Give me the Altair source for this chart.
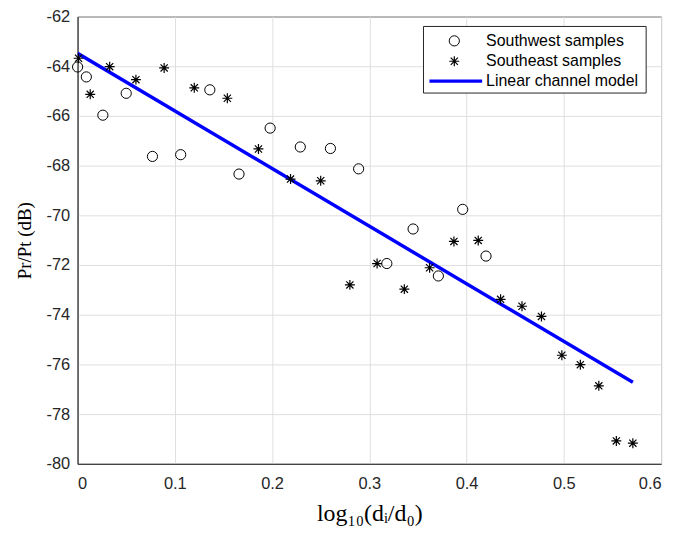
import altair as alt
import pandas as pd

# Southwest samples (circles)
sw_x = [0.000, 0.009, 0.026, 0.050, 0.077, 0.106, 0.136, 0.166, 0.198, 0.229,
        0.260, 0.289, 0.318, 0.345, 0.371, 0.396, 0.420]
sw_y = [-64.03, -64.43, -65.97, -65.09, -67.63, -67.56, -64.95, -68.34, -66.49, -67.25,
        -67.31, -68.13, -71.94, -70.55, -72.44, -69.76, -71.64]

# Southeast samples (asterisks)
se_x = [0.001, 0.013, 0.033, 0.060, 0.089, 0.120, 0.154, 0.186, 0.219, 0.250,
        0.280, 0.308, 0.336, 0.362, 0.387, 0.412, 0.435, 0.457, 0.477, 0.498,
        0.517, 0.536, 0.554, 0.571]
se_y = [-63.68, -65.13, -64.02, -64.54, -64.07, -64.87, -65.29, -67.33, -68.54, -68.61,
        -72.80, -71.94, -72.97, -72.11, -71.05, -71.01, -73.38, -73.66, -74.07, -75.63,
        -76.01, -76.86, -79.08, -79.17]

# Linear channel model (end points)
fit_x = [0.0, 0.571]
fit_y = [-63.48, -76.72]

x_ticks = [0, 0.1, 0.2, 0.3, 0.4, 0.5, 0.6]
y_ticks = [-80, -78, -76, -74, -72, -70, -68, -66, -64, -62]

legend_labels = ["Southwest samples", "Southeast samples", "Linear channel model"]

ASTERISK = "M-1,0L1,0M0,-1L0,1M-0.72,-0.72L0.72,0.72M-0.72,0.72L0.72,-0.72"
AXIS_COLOR = "#262626"

sw = pd.DataFrame({"x": sw_x, "y": sw_y})
se = pd.DataFrame({"x": se_x, "y": se_y})
fit = pd.DataFrame({"x": fit_x, "y": fit_y})

xs = alt.Scale(domain=[0, 0.6], nice=False, zero=False)
ys = alt.Scale(domain=[-80, -62], nice=False, zero=False)

xax = alt.Axis(values=x_ticks, title="log₁₀(dᵢ/d₀)", labelPadding=12,
               labelExpr="datum.value == 0 ? '0' : format(datum.value, '.1f')")
yax = alt.Axis(values=y_ticks, title="Pr/Pt (dB)", labelPadding=8,
               labelExpr="datum.value < 0 ? '-' + format(-datum.value, 'd') : format(datum.value, 'd')")

X = alt.X("x:Q", scale=xs, axis=xax)
Y = alt.Y("y:Q", scale=ys, axis=yax)

line = alt.Chart(fit).mark_line(color="#0000ff", strokeWidth=3.5, clip=True).encode(x=X, y=Y)
pts_sw = alt.Chart(sw).mark_point(shape="circle", filled=False, color="black",
                                  size=105, strokeWidth=1, opacity=1).encode(x=X, y=Y)
pts_se = alt.Chart(se).mark_point(shape=ASTERISK, filled=False, color="black",
                                  size=100, strokeWidth=1.2, opacity=1).encode(x=X, y=Y)

# manual legend (pixel positions inside the plot area)
one = pd.DataFrame({"a": [0]})
leg_box = alt.Chart(one).mark_rect(fill="white", stroke=AXIS_COLOR, strokeWidth=1).encode(
    x=alt.value(348), x2=alt.value(572), y=alt.value(10), y2=alt.value(77))
leg_c = alt.Chart(one).mark_point(shape="circle", filled=False, color="black", opacity=1,
                                  size=105, strokeWidth=1).encode(
    x=alt.value(379), y=alt.value(24.5))
leg_a = alt.Chart(one).mark_point(shape=ASTERISK, filled=False, color="black", opacity=1,
                                  size=100, strokeWidth=1.2).encode(
    x=alt.value(379), y=alt.value(45))
leg_l = alt.Chart(one).mark_rule(color="#0000ff", strokeWidth=3.5).encode(
    x=alt.value(354), x2=alt.value(407), y=alt.value(65))
leg_text = [
    alt.Chart(one).mark_text(align="left", baseline="middle", font="Liberation Sans",
                             fontSize=16, color="black").encode(
        x=alt.value(411), y=alt.value(yy), text=alt.value(lbl))
    for lbl, yy in zip(legend_labels, [24.5, 45, 65])
]

chart = alt.layer(line, pts_sw, pts_se, leg_box, leg_c, leg_a, leg_l, *leg_text).properties(
    width=587, height=450,
    autosize=alt.AutoSizeParams(type="none"),
    padding={"left": 70, "top": 7, "right": 10, "bottom": 64},
).configure_view(
    stroke=AXIS_COLOR, strokeWidth=1
).configure_axis(
    grid=True, gridColor="#dfdfdf", gridWidth=1,
    domainColor=AXIS_COLOR, domainWidth=1,
    ticks=False,
    labelFont="Liberation Sans", labelFontSize=16.5, labelColor=AXIS_COLOR,
    titleFont="Liberation Serif", titleFontWeight="normal", titleColor="black",
).configure_axisX(
    titleFontSize=24, titlePadding=10,
).configure_axisY(
    titleFontSize=19, titlePadding=12,
)

chart.save("out.html", embed_options={"renderer": "svg", "actions": False})
